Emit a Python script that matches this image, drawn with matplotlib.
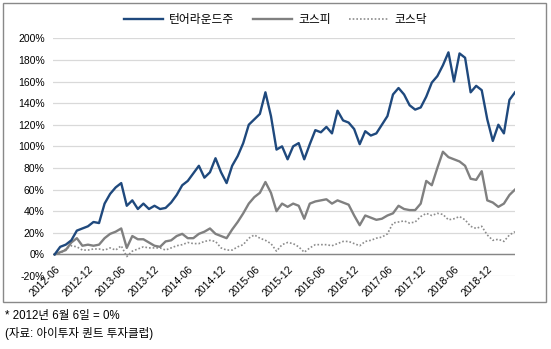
import numpy as np
import pandas as pd
import matplotlib
matplotlib.use("Agg")
import matplotlib.pyplot as plt
from matplotlib.patches import Rectangle

plt.rcParams['font.family'] = ['Liberation Sans', 'Noto Sans CJK KR']

# monthly points, 2012-06 .. 2019-05 (x = month index)
months = [str(p) for p in pd.period_range("2012-06", periods=84, freq="M")]

turnaround = [0, 7, 9, 13, 22, 24, 26, 30, 29, 47, 56, 62, 66, 45, 50, 42, 47, 42, 45, 42,
              43, 48, 55, 64, 68, 75, 82, 71, 76, 89, 76, 66, 82, 91, 103, 120, 125, 130, 150, 128,
              97, 100, 88, 100, 103, 88, 102, 115, 113, 118, 112, 133, 124, 122, 116, 102, 114, 110, 112, 120,
              128, 148, 154, 148, 138, 134, 136, 146, 159, 165, 175, 187, 160, 186, 182, 150, 156, 152, 125, 105,
              120, 112, 143, 150]
kospi = [0, 2, 4, 11, 15, 8, 9, 8, 9, 15, 19, 21, 24, 6, 17, 14, 14, 11, 8, 7,
         12, 13, 17, 19, 15, 15, 19, 21, 24, 19, 17, 15, 23, 30, 38, 47, 53, 57, 67, 57,
         40, 47, 44, 47, 45, 33, 47, 49, 50, 51, 47, 50, 48, 46, 36, 27, 36, 34, 32, 33,
         36, 38, 45, 42, 41, 41, 47, 68, 64, 80, 95, 90, 88, 86, 82, 70, 69, 77, 50, 48,
         44, 47, 55, 60]
kosdaq = [0, 1, 5, 8, 7, 4, 4, 5, 5, 4, 6, 4, 8, -2, 3, 5, 7, 6, 6, 6,
          4, 6, 8, 9, 11, 10, 10, 12, 13, 12, 6, 4, 4, 7, 9, 15, 18, 15, 13, 10,
          3, 9, 11, 10, 7, 2, 6, 9, 9, 9, 8, 10, 12, 12, 10, 8, 12, 13, 15, 16,
          19, 29, 30, 31, 29, 30, 35, 38, 36, 38, 37, 32, 33, 35, 32, 26, 24, 26, 18, 13,
          14, 12, 18, 21]

yticks = list(range(-20, 201, 20))

fig = plt.figure(figsize=(5.51, 3.49), dpi=100)
ax = fig.add_axes([53 / 551, 73 / 349, 462 / 551, 237.7 / 349])

x = np.arange(len(months))
ax.plot(x, turnaround, color="#1f497d", lw=1.7, label="턴어라운드주", zorder=4)
ax.plot(x, kospi, color="#808080", lw=1.7, label="코스피", zorder=3)
ax.plot(x, kosdaq, color="#8c8c8c", lw=1.2, ls=(0, (1, 1.2)), label="코스닥", zorder=2)

ax.set_xlim(-0.3, 83)
ax.set_ylim(-20, 200)
ax.set_yticks(yticks)
ax.set_yticklabels([f"{v}%" for v in yticks], fontsize=7.5)
ax.yaxis.grid(True, color="#d9d9d9", lw=0.9)
ax.set_axisbelow(True)
ax.axhline(0, color="#868686", lw=1, zorder=1)

for s in ["top", "right", "left"]:
    ax.spines[s].set_visible(False)
ax.spines["bottom"].set_position(("data", 0))
ax.spines["bottom"].set_visible(False)
ax.set_xticks(x[::6])
ax.set_xticklabels(months[::6], rotation=45, ha="right", rotation_mode="anchor", fontsize=7.5)
ax.tick_params(axis="both", length=0)
ax.tick_params(axis="x", pad=7)
ax.tick_params(axis="y", pad=6)

fig.legend(loc="center", bbox_to_anchor=(0.5, 1 - 20 / 349), ncol=3, frameon=False,
           fontsize=8.5, handlelength=3.3, handletextpad=0.5, columnspacing=1.6)

fig.patches.append(Rectangle((3 / 551, 47 / 349), 543 / 551, 299 / 349, transform=fig.transFigure,
                             fill=False, edgecolor="#898989", lw=1))

fig.text(5 / 551, 1 - 316 / 349, "* 2012년 6월 6일 = 0%", fontsize=8.3, va="center")
fig.text(5 / 551, 1 - 333 / 349, "(자료: 아이투자 퀀트 투자클럽)", fontsize=8.3, va="center")

fig.savefig("out.png", dpi=100)
